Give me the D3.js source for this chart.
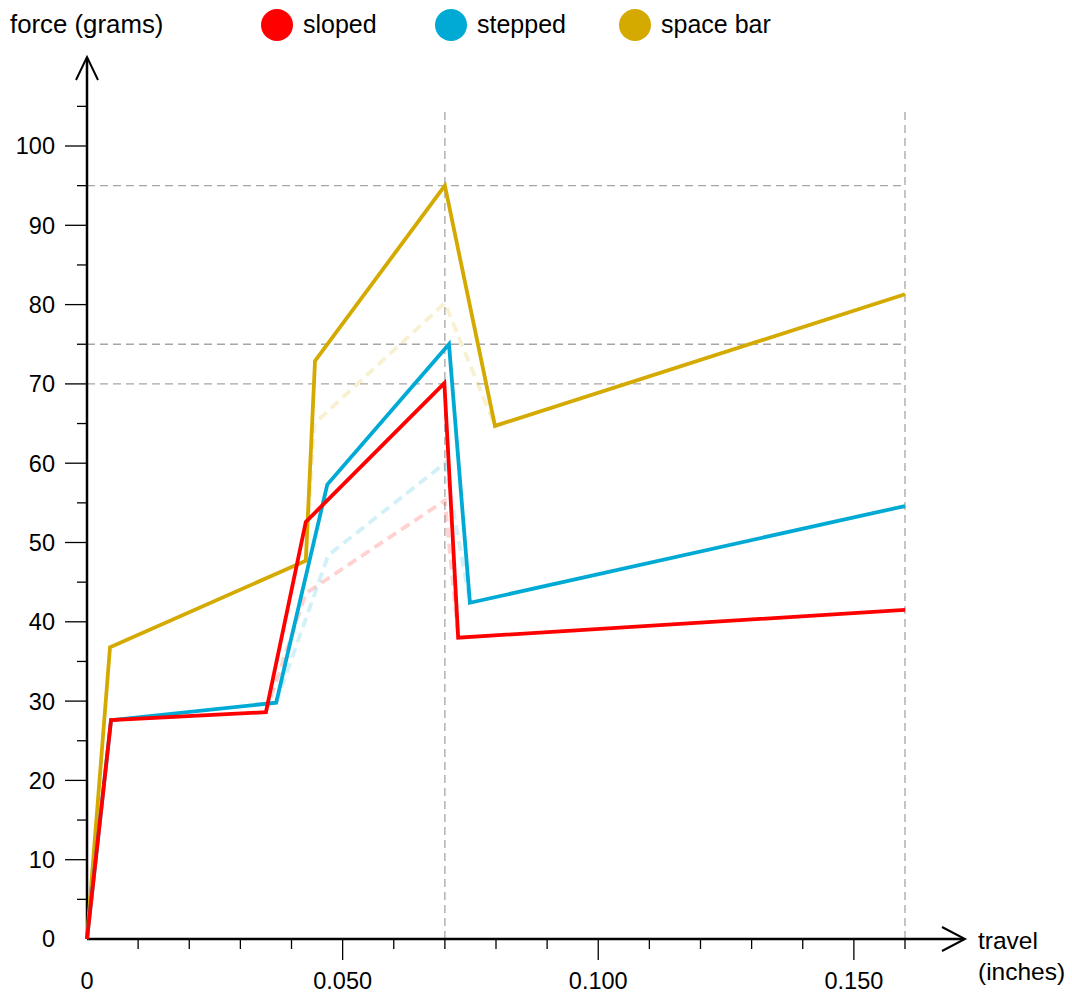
<!DOCTYPE html>
<html><head><meta charset="utf-8">
<script src="https://cdn.jsdelivr.net/npm/d3@7"></script>
<style>body{margin:0;background:#fff}svg{display:block;font-family:"Liberation Sans",Arial,sans-serif}</style>
</head><body>
<script>
const seriesNames = ["sloped", "stepped", "space bar"];
const seriesColors = ["#ff0000", "#00aad4", "#d4aa00"];
const slopedX = [0, 0.0047, 0.035, 0.0428, 0.0699, 0.0726, 0.16];
const slopedY = [0, 27.6, 28.6, 52.6, 70.1, 38.0, 41.5];
const steppedX = [0, 0.0047, 0.037, 0.047, 0.0708, 0.0749, 0.16];
const steppedY = [0, 27.6, 29.8, 57.3, 75.0, 42.4, 54.6];
const spaceX = [0, 0.0045, 0.0428, 0.0446, 0.07, 0.0798, 0.16];
const spaceY = [0, 36.8, 47.7, 72.9, 95.0, 64.7, 81.3];
// faded dashed alternative curves
const slopedAltX = [0.035, 0.0428, 0.07, 0.0726];
const slopedAltY = [28.6, 43.6, 55.3, 38.0];
const steppedAltX = [0.037, 0.0472, 0.07, 0.0749];
const steppedAltY = [29.8, 48.4, 60.0, 42.4];
const spaceAltX = [0.0428, 0.0445, 0.07, 0.0798];
const spaceAltY = [47.7, 65.0, 80.2, 64.7];
const yMajorTicks = [10, 20, 30, 40, 50, 60, 70, 80, 90, 100];
const yMinorTicks = [5, 15, 25, 35, 45, 55, 65, 75, 85, 95, 105];
const xMajorTicks = [0.05, 0.1, 0.15];
const xMinorTicks = [0.01, 0.02, 0.03, 0.04, 0.06, 0.07, 0.08, 0.09, 0.11, 0.12, 0.13, 0.14, 0.16];
const xTickLabels = ["0", "0.050", "0.100", "0.150"];
const xTickLabelVals = [0, 0.05, 0.1, 0.15];
const yTickLabelVals = [0, 10, 20, 30, 40, 50, 60, 70, 80, 90, 100];
const hGuides = [95, 75, 70];
const vGuides = [0.07, 0.16];

const W = 1072, H = 996;
const svg = d3.select("body").append("svg").attr("width", W).attr("height", H);
const x = d3.scaleLinear().domain([0, 0.16]).range([87, 905]);
const y = d3.scaleLinear().domain([0, 100]).range([939, 146]);

// guides
const gcol = "#a6a6a6";
svg.selectAll(".hg").data(hGuides).enter().append("line")
  .attr("x1", x(0)).attr("x2", x(0.16)).attr("y1", d => y(d)).attr("y2", d => y(d))
  .attr("stroke", gcol).attr("stroke-width", 1.3).attr("stroke-dasharray", "8,5");
svg.selectAll(".vg").data(vGuides).enter().append("line")
  .attr("x1", d => x(d)).attr("x2", d => x(d)).attr("y1", y(104.3)).attr("y2", y(0))
  .attr("stroke", gcol).attr("stroke-width", 1.3).attr("stroke-dasharray", "8,5");

const line = d3.line().x(d => x(d[0])).y(d => y(d[1]));
const alts = [[slopedAltX, slopedAltY], [steppedAltX, steppedAltY], [spaceAltX, spaceAltY]];
const mains = [[slopedX, slopedY], [steppedX, steppedY], [spaceX, spaceY]];

// faded dashed
alts.forEach((s, i) => {
  svg.append("path").datum(d3.zip(s[0], s[1])).attr("d", line)
    .attr("fill", "none").attr("stroke", seriesColors[i]).attr("stroke-opacity", 0.18)
    .attr("stroke-width", 3.8).attr("stroke-dasharray", "10,6");
});

// axes
const ax = svg.append("g").attr("stroke", "#000");
ax.append("line").attr("x1", x(0)).attr("x2", x(0)).attr("y1", y(0)).attr("y2", 58).attr("stroke-width", 2.5);
ax.append("polyline").attr("points", `${x(0)-11},80 ${x(0)},57 ${x(0)+11},80`).attr("fill", "none").attr("stroke-width", 2);
ax.append("line").attr("x1", x(0)).attr("x2", 964).attr("y1", y(0)).attr("y2", y(0)).attr("stroke-width", 2.5);
ax.append("polyline").attr("points", `942,${y(0)-12} 965,${y(0)} 942,${y(0)+12}`).attr("fill", "none").attr("stroke-width", 2);

ax.selectAll(".ymaj").data(yMajorTicks).enter().append("line")
  .attr("x1", x(0) - 22).attr("x2", x(0)).attr("y1", d => y(d)).attr("y2", d => y(d)).attr("stroke-width", 1.3);
ax.selectAll(".ymin").data(yMinorTicks).enter().append("line")
  .attr("x1", x(0) - 10).attr("x2", x(0)).attr("y1", d => y(d)).attr("y2", d => y(d)).attr("stroke-width", 1.3);
ax.selectAll(".xmaj").data(xMajorTicks).enter().append("line")
  .attr("x1", d => x(d)).attr("x2", d => x(d)).attr("y1", y(0)).attr("y2", y(0) + 21).attr("stroke-width", 1.3);
ax.selectAll(".xmin").data(xMinorTicks).enter().append("line")
  .attr("x1", d => x(d)).attr("x2", d => x(d)).attr("y1", y(0)).attr("y2", y(0) + 10).attr("stroke-width", 1.3);

svg.selectAll(".yl").data(yTickLabelVals).enter().append("text")
  .attr("x", 55).attr("y", d => y(d)).attr("dy", "0.36em").attr("text-anchor", "end")
  .attr("font-size", 23.5).attr("fill", "#000").text(d => d);
svg.selectAll(".xl").data(xTickLabelVals).enter().append("text")
  .attr("x", d => x(d)).attr("y", 981).attr("dy", "0.36em").attr("text-anchor", "middle")
  .attr("font-size", 23.5).attr("fill", "#000").text((d, i) => xTickLabels[i]);

svg.append("text").attr("x", 978).attr("y", 940).attr("dy", "0.35em").attr("font-size", 24.5).text("travel");
svg.append("text").attr("x", 978).attr("y", 971).attr("dy", "0.35em").attr("font-size", 24.5).text("(inches)");
svg.append("text").attr("x", 10).attr("y", 24).attr("dy", "0.35em").attr("font-size", 25.8).text("force (grams)");

// main lines (drawn space bar, stepped, sloped so red is on top)
[2, 1, 0].forEach(i => {
  const s = mains[i];
  svg.append("path").datum(d3.zip(s[0], s[1])).attr("d", line)
    .attr("fill", "none").attr("stroke", seriesColors[i])
    .attr("stroke-width", 3.8).attr("stroke-linejoin", "miter");
});
// legend
const legX = [277, 451, 635];
seriesNames.forEach((n, i) => {
  svg.append("circle").attr("cx", legX[i]).attr("cy", 25).attr("r", 16).attr("fill", seriesColors[i]);
  svg.append("text").attr("x", legX[i] + 26).attr("y", 24).attr("dy", "0.35em").attr("font-size", 25).text(n);
});
</script>
</body></html>
